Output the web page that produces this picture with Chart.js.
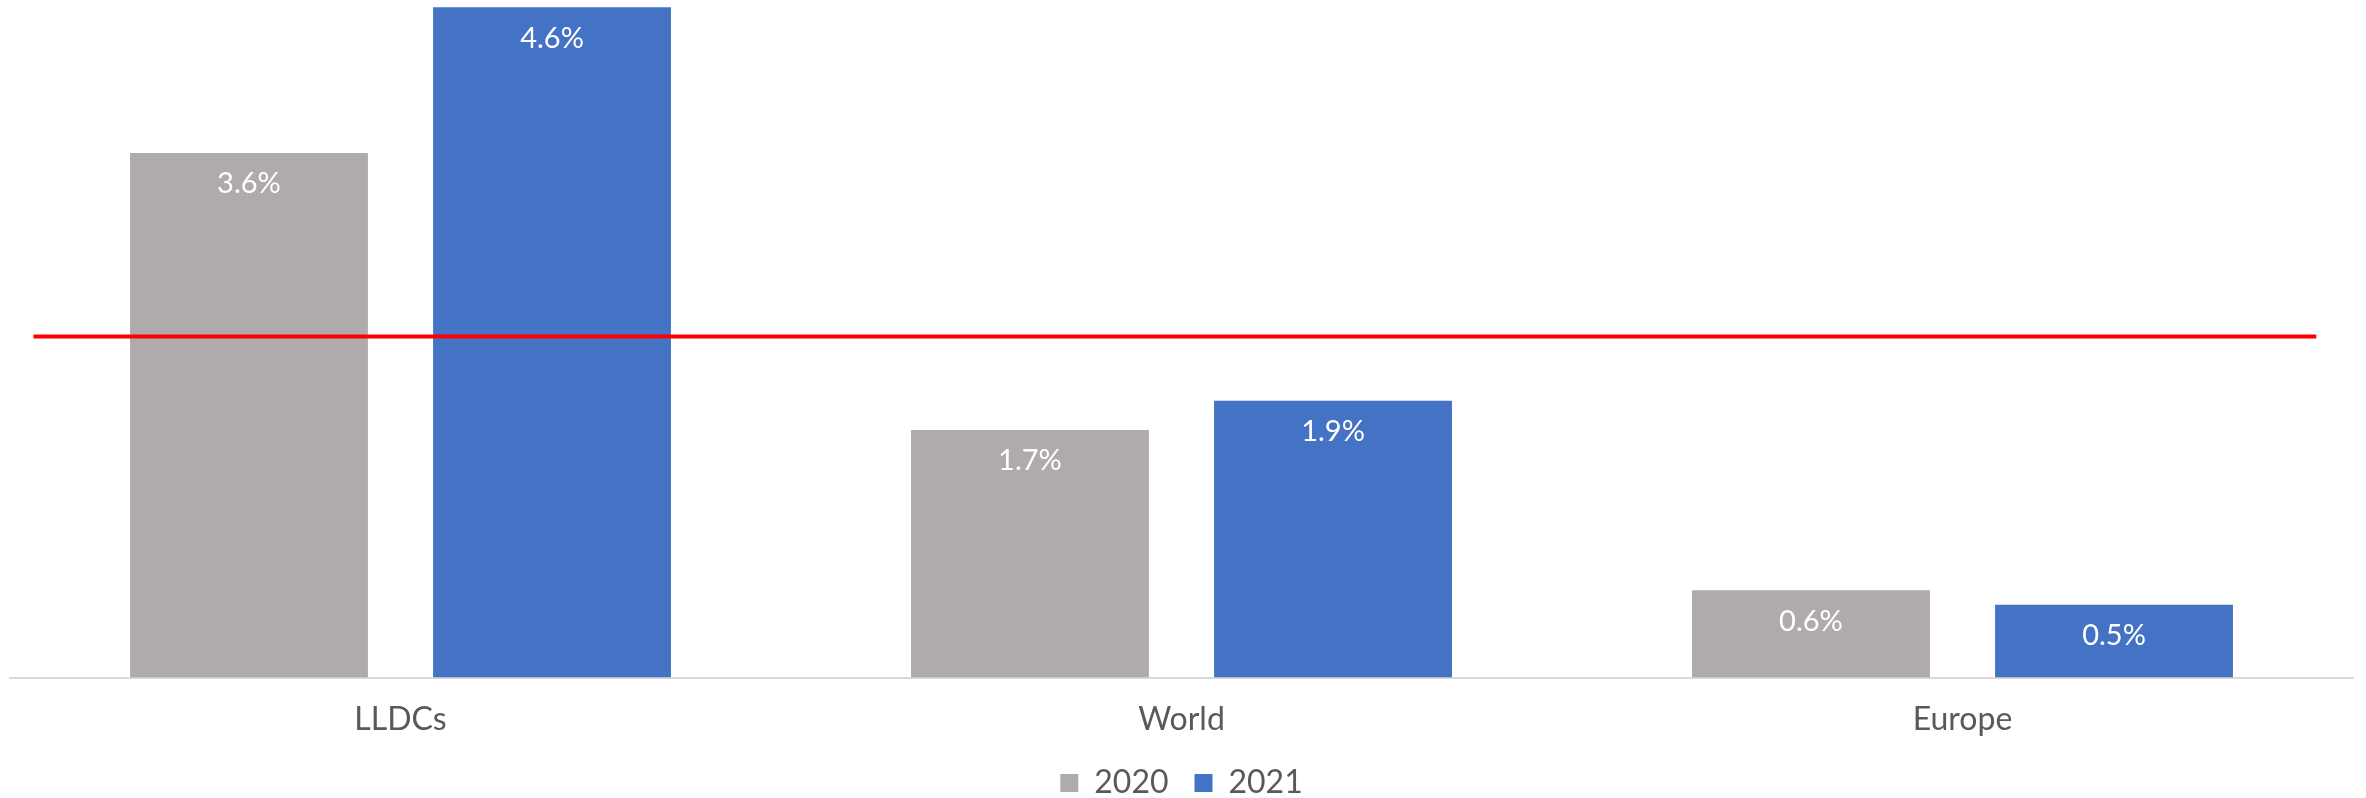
<!DOCTYPE html>
<html>
<head>
<meta charset="utf-8">
<script src="https://cdn.jsdelivr.net/npm/chart.js@4/dist/chart.umd.min.js"></script>
<style>
  html, body { margin: 0; padding: 0; background: #ffffff; }
  #wrap { width: 2366px; height: 798px; position: relative; }
</style>
</head>
<body>
<div id="wrap"><canvas id="c" width="2366" height="798"></canvas></div>
<script>
const categories = ["LLDCs", "World", "Europe"];
const seriesNames = ["2020", "2021"];
const values2020 = [3.6, 1.7, 0.6];
const values2021 = [4.6, 1.9, 0.5];
const targetValue = 2.34;            // red reference line (% level)
const targetSpan = [-0.47, 2.453];   // extent along the category axis (category index units)

const FONT = "Lato, 'Open Sans', sans-serif";

const legendFitPlugin = {
  id: 'legendFit',
  beforeLayout(chart) {
    const lg = chart.legend;
    if (lg && !lg._fitWrapped) {
      const orig = lg.fit.bind(lg);
      lg.fit = function () { orig(); this.height = 57; };
      lg._fitWrapped = true;
    }
  }
};

const overlayPlugin = {
  id: 'overlay',
  afterDatasetsDraw(chart) {
    const ctx = chart.ctx;
    const xs = chart.scales.x, ys = chart.scales.y;
    // red reference line
    ctx.save();
    ctx.strokeStyle = '#ff0000';
    ctx.lineWidth = 4;
    ctx.beginPath();
    const ty = ys.getPixelForValue(targetValue);
    ctx.moveTo(xs.getPixelForValue(targetSpan[0]), ty);
    ctx.lineTo(xs.getPixelForValue(targetSpan[1]), ty);
    ctx.stroke();
    ctx.restore();
    // data labels
    ctx.save();
    ctx.font = "29px " + FONT;
    ctx.fillStyle = "#ffffff";
    ctx.textAlign = "center";
    ctx.textBaseline = "middle";
    chart.data.datasets.forEach((ds, i) => {
      const meta = chart.getDatasetMeta(i);
      meta.data.forEach((bar, j) => {
        ctx.fillText(ds.data[j].toFixed(1) + "%", bar.x, bar.y + 31);
      });
    });
    ctx.restore();
  }
};

new Chart(document.getElementById('c'), {
  type: 'bar',
  data: {
    labels: categories,
    datasets: [
      {
        label: seriesNames[0],
        data: values2020,
        backgroundColor: '#AFABAB',
        categoryPercentage: 0.776,
        barPercentage: 0.785
      },
      {
        label: seriesNames[1],
        data: values2021,
        backgroundColor: '#4472C4',
        categoryPercentage: 0.776,
        barPercentage: 0.785
      }
    ]
  },
  options: {
    responsive: false,
    animation: false,
    layout: { padding: { left: 10, right: 13, top: 0, bottom: 0 } },
    scales: {
      x: {
        grid: { display: false, drawTicks: false },
        border: { display: true, color: '#d9d9d9', width: 2 },
        ticks: { color: '#595959', font: { family: FONT, size: 32 }, padding: 23 },
        afterFit(scale) { scale.height = 63.4; }
      },
      y: {
        display: false,
        min: 0,
        max: 4.65
      }
    },
    plugins: {
      legend: {
        position: 'bottom',
        labels: {
          boxWidth: 18,
          boxHeight: 18,
          padding: 26,
          color: '#595959',
          font: { family: FONT, size: 32 }
        }
      },
      tooltip: { enabled: false }
    }
  },
  plugins: [legendFitPlugin, overlayPlugin]
});
</script>
</body>
</html>
